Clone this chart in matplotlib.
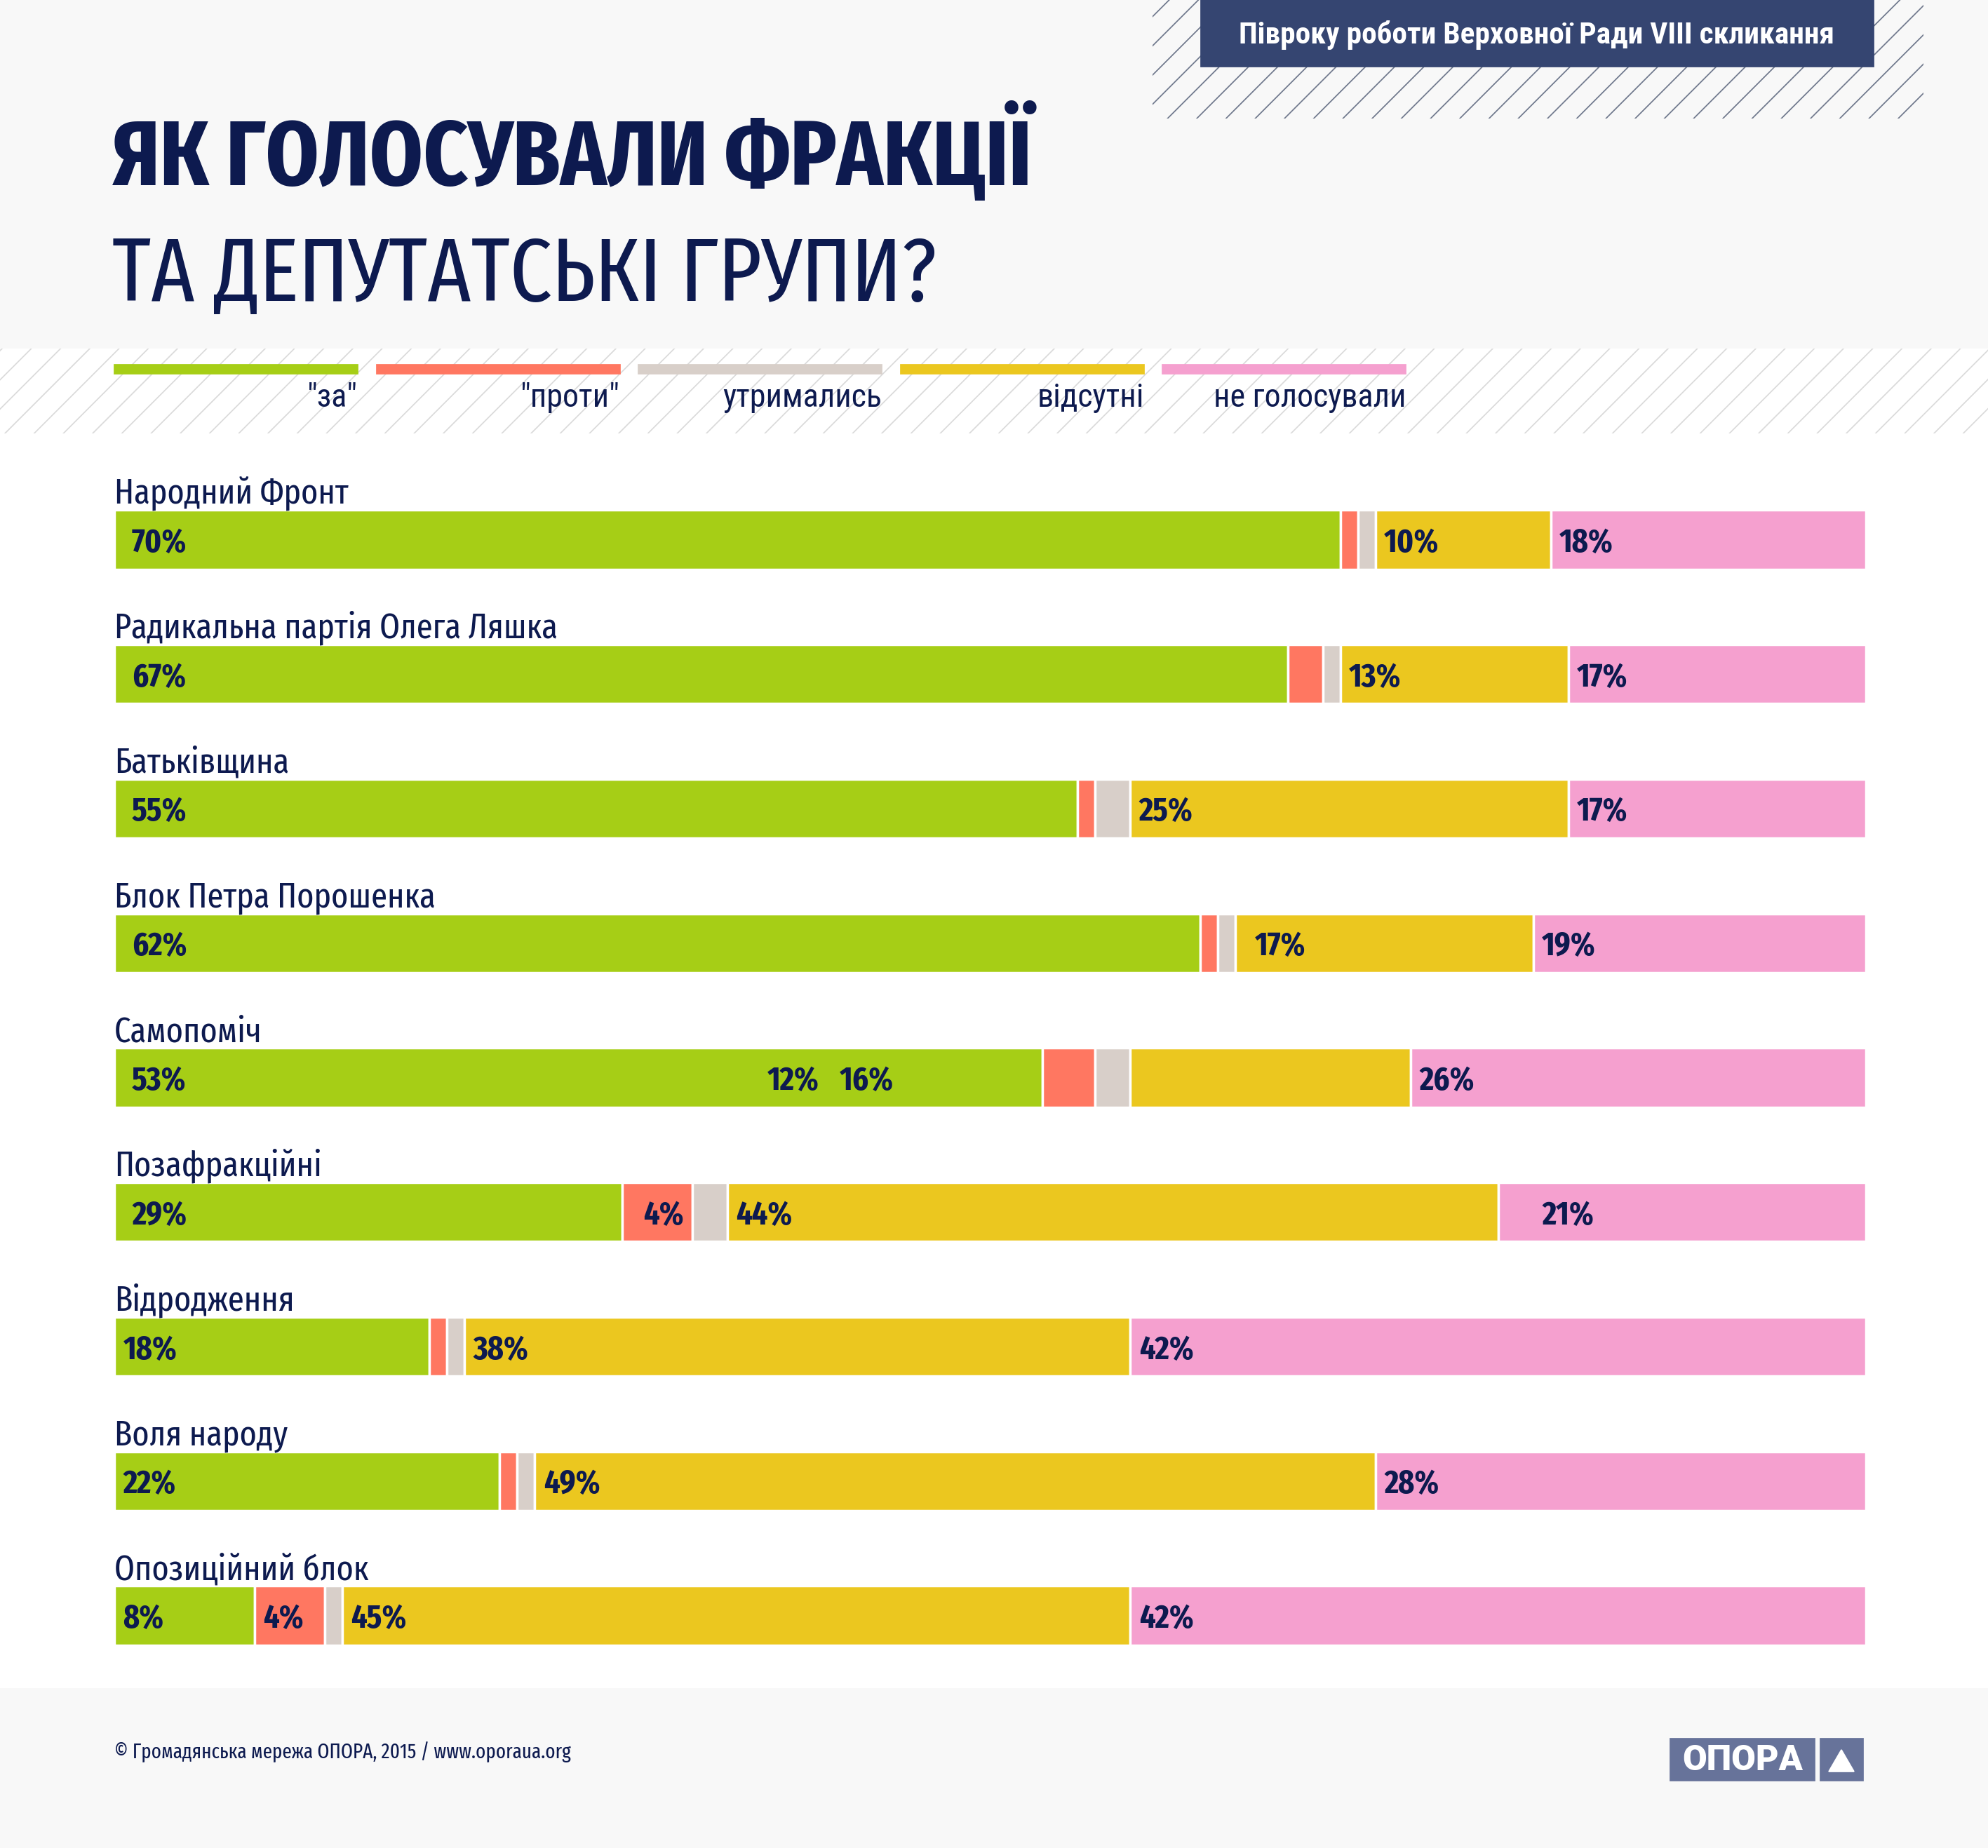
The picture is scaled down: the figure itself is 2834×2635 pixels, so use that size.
import numpy as np
import matplotlib
matplotlib.use('Agg')
import matplotlib.pyplot as plt
from matplotlib.patches import Rectangle, Polygon

# --- дані (частки голосів фракцій, %) ---
parties = ['Народний Фронт', 'Радикальна партія Олега Ляшка', 'Батьківщина',
           'Блок Петра Порошенка', 'Самопоміч', 'Позафракційні', 'Відродження',
           'Воля народу', 'Опозиційний блок']
za = [70, 67, 55, 62, 53, 29, 18, 22, 8]
proty = [1, 2, 1, 1, 3, 4, 1, 1, 4]
utrymalys = [1, 1, 2, 1, 2, 2, 1, 1, 1]
vidsutni = [10, 13, 25, 17, 16, 44, 38, 48, 45]
ne_golos = [18, 17, 17, 19, 26, 21, 42, 28, 42]

# підписи на сегментах (як на оригіналі)
za_lbl = ['70%', '67%', '55%', '62%', '53%', '29%', '18%', '22%', '8%']
proty_lbl = ['', '', '', '', '', '4%', '', '', '4%']
utrym_lbl = ['', '', '', '', '', '', '', '', '']
vids_lbl = ['10%', '13%', '25%', '17%', '', '44%', '38%', '49%', '45%']
ne_lbl = ['18%', '17%', '17%', '19%', '26%', '21%', '42%', '28%', '42%']
# "загублені" підписи у рядку Самопоміч
samop_extra = ['12%', '16%']

legend_names = ['"за"', '"проти"', 'утримались', 'відсутні', 'не голосували']
colors = ['#a6ce16', '#ff7761', '#d8cfc9', '#ebc71f', '#f5a0cf']
navy = '#0d1a4f'

W, H = 2834, 2635
DPI = 125
NARROW = ['Fira Sans Extra Condensed', 'Roboto Condensed', 'DejaVu Sans']
plt.rcParams['font.family'] = ['Roboto Condensed', 'DejaVu Sans']
plt.rcParams['hatch.linewidth'] = 1.0

fig = plt.figure(figsize=(W / DPI, H / DPI), dpi=DPI, facecolor='white')

# фон і оформлення (координати в пікселях)
bg = fig.add_axes([0, 0, 1, 1])
bg.set_xlim(0, W)
bg.set_ylim(H, 0)
bg.axis('off')
bg.add_patch(Rectangle((0, 0), W, 497, color='#f8f8f8', zorder=0))
bg.add_patch(Rectangle((0, 2408), W, H - 2408, color='#f8f8f8', zorder=0))
bg.add_patch(Rectangle((0, 497), W, 121, facecolor='white', edgecolor='#dadada',
                       hatch='/', linewidth=0, zorder=1))
bg.add_patch(Rectangle((1643, 0), 1099, 169, facecolor='#f8f8f8', edgecolor='#6f788c',
                       hatch='/', linewidth=0, zorder=1))
bg.add_patch(Rectangle((1712, 0), 959, 95, color='#354571', zorder=2))
bg.text(2191, 62, 'Півроку роботи Верховної Ради VIII скликання', color='white',
        fontsize=25, fontweight='bold', ha='center', va='baseline', zorder=3)

bg.text(160, 264, 'ЯК ГОЛОСУВАЛИ ФРАКЦІЇ', color=navy, fontsize=76,
        fontweight='bold', family=NARROW, va='baseline')
bg.text(160, 429, 'ТА ДЕПУТАТСЬКІ ГРУПИ?', color=navy, fontsize=74,
        fontweight='normal', family=NARROW, va='baseline')

# легенда
for k, (name, col) in enumerate(zip(legend_names, colors)):
    x0 = 163 + k * 373.5
    bg.add_patch(Rectangle((x0, 520), 347, 13, color=col, zorder=2))
    bg.text(x0 + 347, 580, name, color=navy, fontsize=26.5, ha='right', va='baseline', zorder=3)

# футер
bg.text(163, 2507, '© Громадянська мережа ОПОРА, 2015 / www.oporaua.org', color=navy,
        fontsize=17, family=NARROW, va='baseline')
bg.add_patch(Rectangle((2381, 2479), 206, 60, color='#67739a', zorder=2))
bg.add_patch(Rectangle((2595, 2479), 61, 60, color='#67739a', zorder=2))
bg.text(2484, 2511, 'ОПОРА', color='white', fontsize=29, fontweight='black',
        family='Roboto', ha='center', va='center', zorder=3)
bg.add_patch(Polygon([(2607, 2526), (2643, 2526), (2625, 2495)], color='white', zorder=3))

# --- стовпчики ---
ax = fig.add_axes([163 / W, 1 - 2399.5 / H, (2660 - 163) / W, (2399.5 - 673.5) / H])
ax.set_xlim(0, 100)
ax.set_ylim(8.5, -0.5)
ax.axis('off')

# додаткові зсуви підписів, як в оригіналі
extra_pad = {('Блок Петра Порошенка', 3): 0.6, ('Позафракційні', 1): 0.7,
             ('Позафракційні', 4): 2.0}

series = [za, proty, utrymalys, vidsutni, ne_golos]
labels = [za_lbl, proty_lbl, utrym_lbl, vids_lbl, ne_lbl]
y = np.arange(len(parties))
left = np.zeros(len(parties))
bar_h = 0.44
for s, (vals, lbls, col) in enumerate(zip(series, labels, colors)):
    vals = np.array(vals, dtype=float)
    ax.barh(y, vals, left=left, height=bar_h, color=col, edgecolor='white', linewidth=2)
    for i in range(len(parties)):
        if lbls[i]:
            pad = 1.0 if (s == 0 and vals[i] >= 25) else 0.5
            pad += extra_pad.get((parties[i], s), 0)
            ax.text(left[i] + pad, i + 0.091, lbls[i], fontsize=27.5, fontweight='bold',
                    family=NARROW, color=navy, va='baseline')
    left += vals

i5 = parties.index('Самопоміч')
for xl, t in zip([37.3, 41.4], samop_extra):
    ax.text(xl, i5 + 0.091, t, fontsize=27.5, fontweight='bold', family=NARROW,
            color=navy, va='baseline')

for i, name in enumerate(parties):
    ax.text(0, i - 0.268, name, fontsize=29, family=NARROW, color=navy, va='baseline')

fig.savefig('out.png', dpi=DPI, facecolor='white')
